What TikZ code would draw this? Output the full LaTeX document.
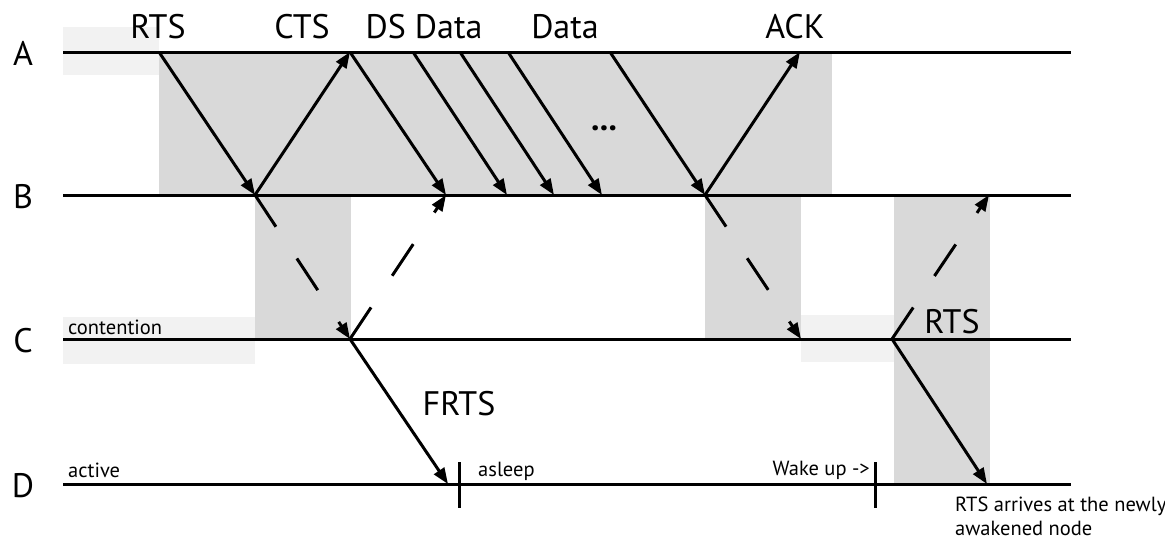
\documentclass[tikz,border=0pt]{standalone}
\usepackage{fontspec}
\setmainfont{PT Sans}
\usetikzlibrary{arrows.meta}
\definecolor{busygray}{HTML}{D9D9D9}
\definecolor{idlegray}{HTML}{F2F2F2}
\begin{document}
\begin{tikzpicture}[x=1pt,y=-1pt,
  lane/.style={line width=3pt},
  msg/.style={line width=3pt,-{Triangle[length=16pt,width=12pt]}},
  dmsg/.style={msg,dash pattern=on 38pt off 38pt},
  busy/.style={fill=busygray},
  idle/.style={fill=idlegray},
  big/.style={font=\fontsize{34}{40}\selectfont,inner sep=0pt},
  small/.style={font=\fontsize{20.5}{24}\selectfont,inner sep=0pt},
  marker/.style={line width=3pt}]
\useasboundingbox (0,0) rectangle (1165,542);

% channel busy / idle periods
\fill[idle] (63,27) rectangle (159,75);
\fill[busy] (159,52) rectangle (832,195);
\fill[busy] (255,195) rectangle (351,339);
\fill[idle] (63,317) rectangle (255,364);
\fill[busy] (705,195) rectangle (801,339);
\fill[idle] (801,315) rectangle (894,362);
\fill[busy] (894,195) rectangle (990,484);

% time lines of the four nodes
\coordinate (A0) at (63,52);  \coordinate (A1) at (1071,52);
\coordinate (B0) at (63,195); \coordinate (B1) at (1071,195);
\coordinate (C0) at (63,339); \coordinate (C1) at (1071,339);
\coordinate (D0) at (63,484); \coordinate (D1) at (1071,484);
\draw[lane] (A0) -- (A1);
\draw[lane] (B0) -- (B1);
\draw[lane] (C0) -- (C1);
\draw[lane] (D0) -- (D1);

\node[big,anchor=base] (lA) at (23,65) {A};
\node[big,anchor=base] (lB) at (23,208) {B};
\node[big,anchor=base] (lC) at (23,352) {C};
\node[big,anchor=base] (lD) at (23,497) {D};

% events on the time lines
\coordinate (aRTS) at (159,52);
\coordinate (bRTS) at (255,195);
\coordinate (aCTS) at (350,52);
\coordinate (cCTS) at (350,339);
\coordinate (bDS)  at (446,195);
\coordinate (aD1) at (413,52); \coordinate (bD1) at (507,195);
\coordinate (aD2) at (460,52); \coordinate (bD2) at (554,195);
\coordinate (aD3) at (508,52); \coordinate (bD3) at (602,195);
\coordinate (aD4) at (610,52); \coordinate (bD4) at (705,195);
\coordinate (aACK) at (800,52);
\coordinate (cACK) at (801,339);
\coordinate (cRTS) at (892,339);
\coordinate (bRTS2) at (989,195);
\coordinate (dFRTS) at (448,484);
\coordinate (dRTS) at (987,484);

% messages
\draw[msg] (aRTS) -- (bRTS);
\draw[msg] (bRTS) -- (aCTS);
\draw[msg] (aCTS) -- (bDS);
\draw[msg] (aD1) -- (bD1);
\draw[msg] (aD2) -- (bD2);
\draw[msg] (aD3) -- (bD3);
\draw[msg] (aD4) -- (bD4);
\draw[msg] (bD4) -- (aACK);
\draw[dmsg] (bRTS) -- (cCTS);
\draw[dmsg] (cCTS) -- (bDS);
\draw[dmsg] (bD4) -- (cACK);
\draw[dmsg] (cRTS) -- (bRTS2);
\draw[msg] (cCTS) -- (dFRTS);
\draw[msg] (cRTS) -- (dRTS);

% sleep / wake-up markers on D
\coordinate (s0) at (459,462); \coordinate (s1) at (459,508);
\coordinate (w0) at (875,462); \coordinate (w1) at (875,508);
\draw[marker] (s0) -- (s1);
\draw[marker] (w0) -- (w1);

% message labels
\node[big,anchor=base] (tRTS) at (158,38) {RTS};
\node[big,anchor=base] (tCTS) at (302,38) {CTS};
\node[big,anchor=base] (tDS) at (424,38) {DS Data};
\node[big,anchor=base] (tData) at (565,38) {Data};
\node[big,anchor=base] (tACK) at (795,38) {ACK};
\node[big,anchor=base] (tDots) at (604,130) {\bfseries ...};
\node[big,anchor=base] (tFRTS) at (459,415) {FRTS};
\node[big,anchor=base] (tRTS2) at (952,333) {RTS};

% state labels
\node[small,anchor=base west] (contention) at (68,334) {contention};
\node[small,anchor=base west] (active) at (68,477) {active};
\node[small,anchor=base west] (asleep) at (478,476) {asleep};
\node[small,anchor=base east] (wake) at (870,475) {Wake up ->};
\node[small,anchor=north west,align=left] (arrive) at (955,497)
  {RTS arrives at the newly\\awakened node};
\end{tikzpicture}
\end{document}
